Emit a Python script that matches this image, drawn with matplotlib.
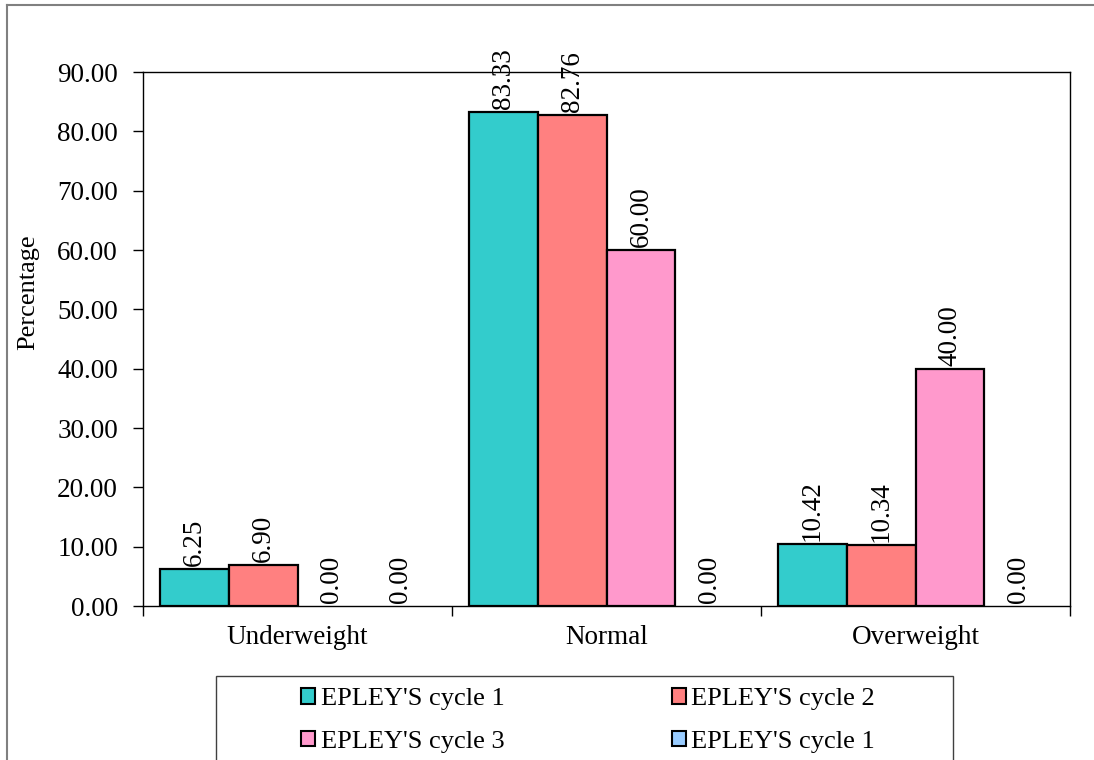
import matplotlib
matplotlib.use("Agg")
import matplotlib.pyplot as plt
from matplotlib.patches import Patch, Rectangle
from matplotlib.lines import Line2D
import numpy as np

plt.rcParams['font.family'] = ['Liberation Serif', 'DejaVu Serif']

categories = ["Underweight", "Normal", "Overweight"]
series_names = ["EPLEY'S cycle 1", "EPLEY'S cycle 2", "EPLEY'S cycle 3", "EPLEY'S cycle 1"]
cycle1 = [6.25, 83.33, 10.42]
cycle2 = [6.90, 82.76, 10.34]
cycle3 = [0.00, 60.00, 40.00]
cycle1_repeat = [0.00, 0.00, 0.00]
series_values = [cycle1, cycle2, cycle3, cycle1_repeat]
colors = ["#33CCCC", "#FF8080", "#FF99CC", "#99CCFF"]
y_ticks = [0, 10, 20, 30, 40, 50, 60, 70, 80, 90]

FS = 19.5
W, H = 1094, 760
fig = plt.figure(figsize=(W / 100, H / 100), dpi=100)
ax = fig.add_axes([143 / W, 1 - 606 / H, (1070 - 143) / W, (606 - 72) / H])

x = np.arange(len(categories))
n = len(series_values)
bar_w = 0.2233
for i, (vals, col) in enumerate(zip(series_values, colors)):
    offs = (i - (n - 1) / 2) * bar_w
    lws = [1.6 if v > 0 else 0 for v in vals]
    bars = ax.bar(x + offs, vals, width=bar_w, color=col, edgecolor="black",
                  linewidth=lws, zorder=2)
    for b, v in zip(bars, vals):
        ax.annotate(f"{v:.2f}", (b.get_x() + b.get_width() / 2, v),
                    xytext=(0, 2), textcoords="offset points",
                    rotation=90, ha="center", va="bottom", fontsize=FS,
                    annotation_clip=False, zorder=3)

ax.set_xlim(-0.5, len(categories) - 0.5)
ax.set_ylim(0, 90)
ax.set_yticks(y_ticks)
ax.set_yticklabels([f"{t:.2f}" for t in y_ticks], fontsize=FS)
ax.tick_params(axis="y", direction="out", length=7, width=1, pad=11)
ax.set_xticks(x)
ax.set_xticklabels(categories, fontsize=FS)
ax.set_xticks(np.arange(len(categories) + 1) - 0.5, minor=True)
ax.tick_params(axis="x", which="major", length=0, pad=14)
ax.tick_params(axis="x", which="minor", direction="out", length=7, width=1)
for sp in ax.spines.values():
    sp.set_linewidth(1.0)
    sp.set_color("black")

ax.set_ylabel("Percentage", fontsize=19)
ax.yaxis.set_label_coords(-0.112, 0.588)

# outer chart frame (top and left edges)
fig.add_artist(Line2D([7 / W, 7 / W], [0, 1 - 5 / H], color="#808080", lw=1.5))
fig.add_artist(Line2D([7 / W, 1], [1 - 5 / H, 1 - 5 / H], color="#808080", lw=1.5))

# legend box
fig.add_artist(Rectangle((216 / W, -0.05), (953 - 216) / W, 0.05 + 1 - 676 / H,
                         fill=False, edgecolor="#404040", lw=1.0))
handles = [Patch(facecolor=c, edgecolor="black", linewidth=1.5) for c in colors]
order = [0, 2, 1, 3]  # row-wise reading order in a two-column legend
fig.legend([handles[k] for k in order], [series_names[k] for k in order],
           ncol=2, loc="upper center",
           bbox_to_anchor=(588 / W, 1 - 675 / H), frameon=False, fontsize=19,
           handlelength=0.53, handleheight=0.53, handletextpad=0.22,
           columnspacing=6.33, labelspacing=0.77, borderpad=0.0)

fig.savefig("out.png", dpi=100)
